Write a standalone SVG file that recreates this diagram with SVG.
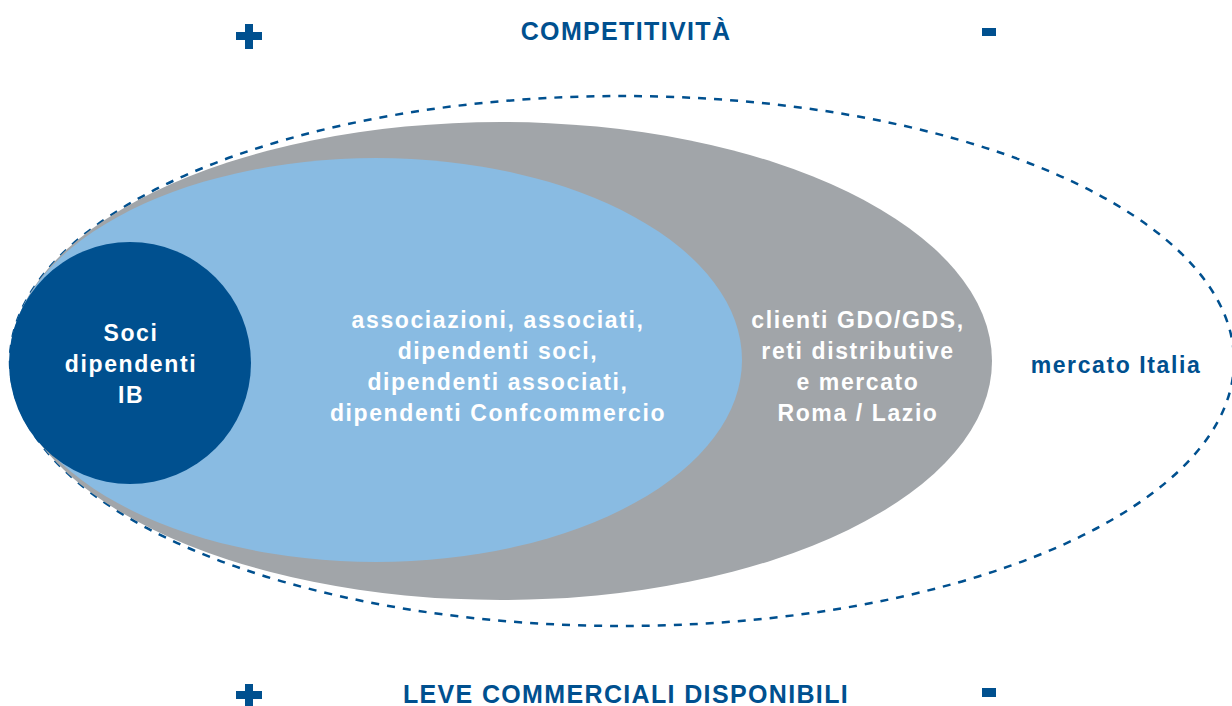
<svg xmlns="http://www.w3.org/2000/svg" width="1232" height="706" viewBox="0 0 1232 706">
<style>
.t{font-family:"Liberation Sans",Arial,sans-serif;font-weight:bold;text-anchor:middle}
.w{fill:#ffffff;font-size:23px;letter-spacing:1.6px}
.b{fill:#00508f}
.h{font-size:25px;letter-spacing:1.35px}
.sign{fill:#00508f}
</style>
<rect width="1232" height="706" fill="#ffffff"/>
<g id="outer-market">
<ellipse cx="622" cy="361" rx="612" ry="265" fill="none" stroke="#00508f" stroke-width="2.5" stroke-dasharray="8 8"/>
<text class="t b" x="1116" y="373" font-size="23" letter-spacing="1.6">mercato Italia</text>
</g>
<g id="gdo">
<ellipse cx="501" cy="361" rx="491" ry="239" fill="#a1a5a9"/>
<text class="t w" x="858" y="328">clienti GDO/GDS,</text>
<text class="t w" x="858" y="359">reti distributive</text>
<text class="t w" x="858" y="390">e mercato</text>
<text class="t w" x="858" y="421">Roma / Lazio</text>
</g>
<g id="associazioni">
<ellipse cx="376" cy="360" rx="366" ry="202" fill="#89bbe2"/>
<text class="t w" x="498" y="328">associazioni, associati,</text>
<text class="t w" x="498" y="359">dipendenti soci,</text>
<text class="t w" x="498" y="390">dipendenti associati,</text>
<text class="t w" x="498" y="421">dipendenti Confcommercio</text>
</g>
<g id="soci">
<circle cx="130" cy="363" r="121" fill="#00508f"/>
<text class="t w" x="131" y="341">Soci</text>
<text class="t w" x="131" y="372">dipendenti</text>
<text class="t w" x="131" y="403">IB</text>
</g>
<g id="competitivita">
<text class="t b h" x="626" y="40">COMPETITIVITÀ</text>
<path class="sign" d="M245 24h8v8h9v8h-9v9h-8v-9h-9v-8h9z"/>
<rect class="sign" x="982" y="28" width="14" height="8"/>
</g>
<g id="leve">
<text class="t b h" x="626" y="703">LEVE COMMERCIALI DISPONIBILI</text>
<path class="sign" d="M245 684h8v7h9v8h-9v8h-8v-8h-9v-8h9z"/>
<rect class="sign" x="982" y="688" width="14" height="9"/>
</g>
<g id="connectors"/>
</svg>
